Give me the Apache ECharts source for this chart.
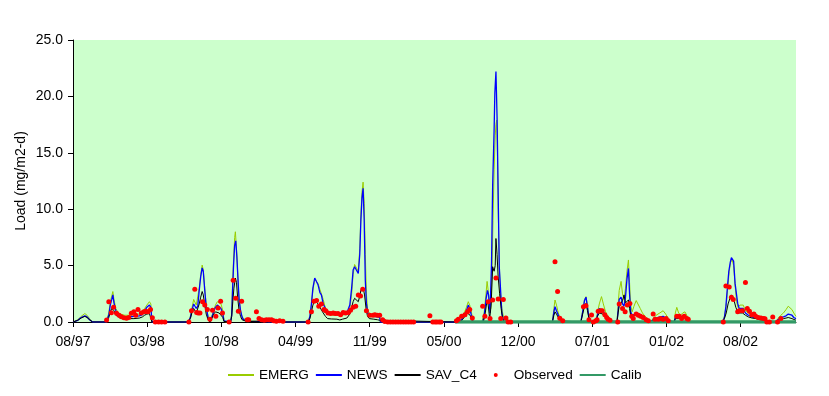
<!DOCTYPE html>
<html>
<head>
<meta charset="utf-8">
<script src="https://cdn.jsdelivr.net/npm/echarts@6/dist/echarts.min.js"></script>
<style>
html,body{margin:0;padding:0;background:#ffffff;}
#chart{width:829px;height:396px;}
</style>
</head>
<body>
<div id="chart"></div>
<script>
// x values are days since the first tick (08/97); ticks every 201 days
const xTickLabels = ['08/97','03/98','10/98','04/99','11/99','05/00','12/00','07/01','01/02','08/02'];
const tickStepDays = 201;
const lastDay = 1959;
const yTickValues = [0, 5, 10, 15, 20, 25];

const seriesNames = ['EMERG', 'NEWS', 'SAV_C4', 'Observed', 'Calib'];

const emergData = [
  [0,0],[5,0],[13,0.2],[22,0.5],[32,0.75],[38,0.6],[45,0.3],[53,0],[90,0],
  [91,0],[97,0.8],[101,1.8],[105,2.3],[108,2.7],[111,2.0],[116,1.2],[121,0.9],[128,0.7],[140,0.6],[154,0.6],[165,0.65],[180,0.7],[188,0.8],[194,1.2],[200,1.5],[207,1.8],[211,1.6],[214,0],
  [312,0],[318,0.5],[322,1.2],[327,2.0],[330,2.1],[334,1.5],[338,1.6],[342,3.0],[346,4.2],[350,5.05],[353,4.6],[357,3.0],[361,1.5],[366,0.5],[371,0.1],[376,0.5],[381,1.0],[386,1.5],[391,1.8],[396,1.95],[401,1.6],[406,1.0],[409,0.2],[411,0],
  [427,0],[430,0.8],[432,3.0],[435,5.5],[438,7.5],[440,8.0],[443,6.5],[446,4.5],[449,2.5],[453,1.2],[457,0.6],[461,0.3],[466,0.15],[480,0.1],[500,0.1],[520,0.05],[530,0],
  [637,0],[642,0.5],[646,1.5],[650,2.8],[655,3.8],[660,3.9],[664,3.4],[669,2.9],[673,2.8],[678,2.0],[684,1.2],[690,0.8],[700,0.6],[715,0.6],[730,0.6],[742,0.7],[750,1.2],[755,2.5],[759,4.2],[763,5.1],[768,5.0],[773,4.5],[777,6.5],[780,9.5],[783,11.5],[786,12.4],[789,10.5],[792,6.0],[795,2.5],[798,1.2],[802,0.8],[808,0.7],[815,0.7],[825,0.65],[831,0.6],[833,0],
  [1035,0],[1048,0],[1053,0.3],[1060,0.8],[1066,1.3],[1071,1.8],[1075,1.5],[1080,0.8],[1084,0],
  [1108,0],[1114,0.8],[1119,2.5],[1122,3.6],[1125,2.8],[1128,1.5],[1132,1.2],[1135,4.0],[1138,9.0],[1141,13.5],[1144,16.5],[1146,17.5],[1148,17.9],[1150,15.0],[1152,10.0],[1155,5.0],[1158,2.5],[1162,1.2],[1166,0.5],[1170,0.2],[1175,0],
  [1299,0],[1303,1.2],[1306,1.95],[1310,1.5],[1315,0.8],[1320,0.3],[1324,0],
  [1376,0],[1381,1.0],[1386,2.0],[1390,2.25],[1394,1.5],[1398,0.5],[1401,0],
  [1417,0],[1421,0.8],[1426,1.6],[1432,2.25],[1437,1.6],[1443,0.9],[1449,0.5],[1455,0.2],[1458,0],
  [1474,0],[1477,1.5],[1480,2.8],[1485,3.6],[1489,2.5],[1493,2.0],[1497,3.0],[1501,4.5],[1505,5.5],[1508,3.5],[1511,1.5],[1515,0.9],[1520,1.4],[1526,1.9],[1531,1.8],[1537,1.2],[1543,0.8],[1550,0.5],[1557,0.3],[1563,0],
  [1566,0],[1572,0.3],[1580,0.6],[1590,0.8],[1599,1.0],[1606,0.7],[1613,0.3],[1618,0],
  [1629,0],[1632,0.8],[1636,1.3],[1641,0.8],[1646,0.6],[1652,0.8],[1658,0.9],[1663,0.6],[1667,0],
  [1760,0],[1765,0.5],[1770,1.5],[1774,3.0],[1778,4.5],[1782,5.3],[1786,5.5],[1790,5.0],[1794,3.2],[1798,1.8],[1802,1.3],[1807,1.5],[1812,1.65],[1816,1.5],[1822,1.0],[1830,0.8],[1840,0.6],[1850,0.45],[1860,0.35],[1870,0.25],[1878,0.15],[1882,0],
  [1905,0],[1910,0.3],[1918,0.6],[1925,0.8],[1932,1.1],[1938,1.4],[1942,1.5],[1948,1.1],[1953,0.8],[1959,0.5]
];

const newsData = [
  [0,0],[5,0],[13,0.15],[22,0.4],[32,0.55],[38,0.45],[45,0.2],[53,0],[90,0],
  [91,0],[97,0.6],[101,1.5],[105,2.0],[108,2.4],[111,1.7],[116,1.0],[121,0.7],[128,0.55],[140,0.45],[154,0.45],[165,0.5],[180,0.55],[188,0.65],[194,1.0],[200,1.3],[207,1.5],[211,1.3],[214,0],
  [312,0],[318,0.4],[322,1.0],[327,1.6],[330,1.65],[334,1.2],[338,1.4],[342,2.8],[346,4.0],[350,4.8],[353,4.5],[357,2.8],[361,1.3],[366,0.4],[371,0.05],[376,0.4],[381,0.9],[386,1.3],[391,1.5],[396,1.5],[401,1.2],[406,0.7],[409,0.1],[411,0],
  [427,0],[430,0.6],[432,2.5],[435,5.0],[438,6.8],[441,7.2],[444,5.8],[447,3.8],[450,2.0],[454,1.0],[458,0.45],[462,0.2],[466,0.1],[480,0.08],[500,0.06],[520,0.04],[530,0],
  [637,0],[642,0.5],[646,1.6],[650,3.0],[655,3.9],[660,4.0],[664,3.3],[669,2.6],[673,2.4],[678,1.6],[684,1.2],[690,0.75],[700,0.68],[715,0.65],[730,0.68],[742,0.8],[750,1.5],[755,3.0],[759,4.6],[763,4.9],[768,4.9],[773,4.3],[777,6.0],[780,9.0],[783,11.0],[786,11.85],[789,9.0],[792,3.7],[795,1.65],[799,0.8],[803,0.5],[815,0.5],[825,0.45],[831,0.4],[833,0],
  [1035,0],[1048,0],[1053,0.2],[1060,0.6],[1066,1.0],[1071,1.5],[1075,1.2],[1080,0.5],[1084,0],
  [1110,0],[1114,0.5],[1119,2.0],[1123,2.8],[1126,2.4],[1130,0.8],[1134,5.2],[1137,12.0],[1141,17.0],[1143,20.3],[1146,22.2],[1149,18.2],[1152,11.4],[1155,4.9],[1159,2.6],[1162,0.8],[1166,0.2],[1170,0],
  [1299,0],[1303,0.9],[1306,1.36],[1310,1.0],[1315,0.6],[1320,0.2],[1324,0],
  [1376,0],[1381,0.9],[1386,1.9],[1390,2.2],[1394,1.3],[1398,0.4],[1401,0],
  [1417,0],[1421,0.6],[1426,1.2],[1430,1.3],[1436,1.0],[1443,0.6],[1449,0.3],[1455,0.1],[1458,0],
  [1474,0],[1477,1.0],[1480,2.0],[1485,2.2],[1489,1.6],[1493,1.4],[1497,2.2],[1501,3.8],[1505,4.75],[1508,2.5],[1511,0.9],[1515,0.6],[1520,0.7],[1526,0.75],[1531,0.7],[1537,0.5],[1543,0.35],[1550,0.25],[1557,0.1],[1563,0],
  [1566,0],[1572,0.2],[1580,0.35],[1590,0.45],[1599,0.5],[1606,0.35],[1613,0.15],[1618,0],
  [1629,0],[1632,0.4],[1636,0.6],[1641,0.45],[1646,0.4],[1652,0.5],[1658,0.6],[1663,0.4],[1667,0],
  [1760,0],[1765,0.4],[1769,1.36],[1773,3.0],[1777,4.5],[1781,5.3],[1784,5.7],[1788,5.85],[1790,5.4],[1794,3.4],[1801,1.65],[1805,1.2],[1810,1.3],[1816,1.2],[1822,0.8],[1830,0.6],[1840,0.45],[1850,0.35],[1860,0.25],[1870,0.2],[1878,0.1],[1882,0],
  [1905,0],[1910,0.2],[1918,0.4],[1925,0.45],[1932,0.55],[1938,0.7],[1942,0.8],[1948,0.6],[1953,0.4],[1959,0.3]
];

const savData = [
  [0,0],[5,0],[13,0.15],[22,0.35],[32,0.5],[38,0.4],[45,0.2],[53,0],[90,0],
  [91,0],[97,0.4],[101,0.9],[105,1.2],[108,1.35],[111,1.0],[116,0.6],[121,0.45],[128,0.35],[140,0.3],[154,0.3],[165,0.3],[180,0.35],[188,0.45],[194,0.6],[200,0.7],[207,0.75],[211,0.6],[214,0],
  [312,0],[318,0.3],[322,0.8],[327,1.2],[330,1.1],[334,0.8],[338,0.9],[342,1.6],[346,2.2],[350,2.7],[353,2.4],[357,1.5],[361,0.7],[366,0.2],[371,0],[376,0.3],[381,0.7],[386,0.9],[391,0.85],[396,0.8],[401,0.7],[406,0.4],[409,0.05],[411,0],
  [427,0],[430,0.5],[433,1.8],[436,3.0],[440,3.9],[443,3.5],[446,2.2],[450,1.0],[454,0.5],[458,0.2],[462,0.1],[470,0.05],[530,0],
  [637,0],[642,0.3],[646,0.9],[650,1.5],[655,1.9],[660,1.95],[664,1.6],[669,1.3],[673,1.2],[678,0.8],[684,0.5],[690,0.3],[700,0.27],[715,0.25],[723,0.18],[730,0.25],[742,0.35],[750,0.7],[755,1.3],[759,1.8],[763,2.1],[768,2.0],[773,1.8],[777,2.3],[780,2.8],[786,3.1],[790,2.4],[794,1.2],[798,0.5],[803,0.3],[815,0.25],[825,0.2],[831,0.15],[833,0],
  [1035,0],[1050,0],[1055,0.2],[1062,0.5],[1068,0.8],[1072,0.9],[1076,0.6],[1080,0.2],[1084,0],
  [1112,0],[1117,0.8],[1122,1.95],[1125,1.5],[1129,0.3],[1133,1.5],[1137,4.9],[1141,4.5],[1144,5.0],[1146,7.4],[1149,6.0],[1152,4.0],[1156,2.5],[1160,1.2],[1164,0.3],[1168,0],
  [1299,0],[1303,0.6],[1306,0.9],[1310,0.7],[1315,0.4],[1320,0.1],[1324,0],
  [1376,0],[1381,0.7],[1386,1.4],[1390,1.65],[1394,1.0],[1398,0.3],[1401,0],
  [1417,0],[1421,0.5],[1426,0.8],[1430,0.9],[1436,0.7],[1443,0.4],[1449,0.2],[1455,0.05],[1458,0],
  [1474,0],[1477,0.8],[1480,1.4],[1485,1.5],[1489,1.9],[1493,2.4],[1497,1.7],[1501,1.6],[1505,1.95],[1508,1.2],[1511,0.6],[1515,0.5],[1520,0.55],[1526,0.6],[1531,0.5],[1537,0.4],[1543,0.3],[1550,0.2],[1557,0.1],[1563,0],
  [1566,0],[1572,0.15],[1580,0.25],[1590,0.3],[1599,0.3],[1606,0.2],[1613,0.1],[1618,0],
  [1629,0],[1632,0.3],[1636,0.4],[1641,0.3],[1646,0.3],[1652,0.35],[1658,0.4],[1663,0.25],[1667,0],
  [1760,0],[1765,0.3],[1770,0.8],[1775,1.6],[1780,2.1],[1784,2.4],[1788,2.2],[1792,1.8],[1796,1.3],[1801,0.9],[1807,0.8],[1814,0.8],[1822,0.6],[1830,0.45],[1840,0.35],[1850,0.3],[1860,0.2],[1870,0.15],[1878,0.05],[1882,0],
  [1905,0],[1910,0.15],[1918,0.25],[1925,0.3],[1932,0.35],[1938,0.4],[1942,0.4],[1948,0.3],[1953,0.2],[1959,0.15]
];

const observedData = [
  [91,0.18],[97,1.8],[104,0.83],[110,1.3],[118,0.77],[125,0.6],[131,0.47],[138,0.38],[145,0.33],[151,0.41],[158,0.77],[165,0.9],[170,0.6],[176,1.1],[185,0.8],[192,0.9],[197,0.95],[203,0.9],[210,1.1],[215,0.38],[223,0],[232,0],[240,0],[249,0],
  [314,0],[321,1.0],[330,2.9],[335,0.85],[339,0.8],[344,0.8],[351,1.8],[357,1.5],[364,1.1],[371,0.25],[378,1.05],[387,0.5],[393,1.25],[400,1.85],[405,0.8],[423,0],[434,3.7],[441,2.1],[448,0.95],[457,1.85],[472,0.2],[476,0.2],[497,0.9],[504,0.3],[511,0.2],[518,0.15],[524,0.2],[531,0.2],[538,0.2],[544,0.12],[551,0.06],[560,0.1],[569,0.06],
  [637,0],[646,0.9],[653,1.85],[660,1.9],[666,1.4],[673,1.6],[680,1.1],[685,1.0],[691,0.8],[698,0.75],[705,0.8],[711,0.75],[718,0.75],[725,0.65],[732,0.85],[739,0.8],[746,0.85],[752,1.05],[759,1.3],[766,1.4],[773,2.4],[779,2.3],[785,2.9],[795,1.0],[804,0.6],[813,0.6],[818,0.65],[824,0.6],[831,0.6],[839,0.2],[845,0.05],
  [853,0],[860,0],[867,0],[874,0],[881,0],[888,0],[895,0],[902,0],[909,0],[916,0],[923,0],
  [967,0.56],[975,0],[981,0],[986,0],[992,0],[997,0],
  [1039,0.1],[1044,0.25],[1053,0.5],[1062,0.65],[1069,0.9],[1075,1.1],[1082,0.35],[1110,1.4],[1116,0.5],[1125,1.8],[1130,0.3],[1137,1.95],[1146,3.9],[1152,2.05],[1159,0.3],[1166,2.0],[1173,0.35],[1179,0],[1186,0],
  [1306,5.35],[1313,2.7],[1319,0.33],[1327,0.1],
  [1383,1.36],[1390,1.45],[1398,0.2],[1405,0.62],[1410,0],[1417,0.1],[1420,0.2],[1423,0.95],[1430,1.0],[1434,1.0],[1441,0.65],[1446,0.4],[1450,0.25],[1455,0.15],
  [1476,0],[1480,1.6],[1489,1.2],[1496,0.9],[1502,1.5],[1509,1.65],[1514,0.5],[1518,0.3],[1526,0.7],[1532,0.6],[1538,0.5],[1545,0.4],[1553,0.2],[1559,0.1],
  [1572,0.7],[1577,0.25],[1586,0.25],[1592,0.3],[1599,0.25],[1607,0.3],[1613,0.1],
  [1636,0.5],[1643,0.5],[1649,0.3],[1656,0.5],[1663,0.3],[1667,0.25],
  [1762,0],[1769,3.2],[1778,3.1],[1784,2.2],[1789,2.0],[1801,0.9],[1805,1.0],[1814,1.0],[1822,3.5],[1827,1.2],[1833,0.95],[1839,0.65],[1845,0.7],[1850,0.5],[1857,0.4],[1864,0.35],[1871,0.3],[1875,0.28],[1880,0],[1887,0],[1896,0.45],[1909,0],[1918,0.3]
];

const calibData = [[1035,0],[1959,0]];

const fontFamily = '"Liberation Sans", Arial, sans-serif';
const tickValues = xTickLabels.map((_, i) => i * tickStepDays);
// legend icon for the dots: a small circle centred in a 26x4 box
const dotIcon = 'path://M0,2L0,2.01M26,2L26,2.01M13,0A2,2,0,1,1,13,4A2,2,0,1,1,13,0Z';

const chart = echarts.init(document.getElementById('chart'), null, {renderer: 'canvas'});
chart.setOption({
  animation: false,
  backgroundColor: '#ffffff',
  textStyle: {fontFamily: fontFamily},
  grid: {left: 73, right: 33, top: 40, bottom: 74, show: true, backgroundColor: '#CCFFCC', borderWidth: 0},
  legend: {
    left: 227, top: 368, padding: 0,
    itemWidth: 26, itemHeight: 4, itemGap: 6,
    textStyle: {fontFamily: fontFamily, fontSize: 13.6, color: '#000000'},
    data: [
      {name: seriesNames[0], itemStyle: {opacity: 0}},
      {name: seriesNames[1], itemStyle: {opacity: 0}},
      {name: seriesNames[2], itemStyle: {opacity: 0}},
      {name: seriesNames[3], icon: dotIcon, itemStyle: {color: '#FF0000', borderWidth: 0}},
      {name: seriesNames[4], itemStyle: {opacity: 0}}
    ]
  },
  xAxis: {
    type: 'value', min: 0, max: lastDay,
    axisLine: {show: true, onZero: false, lineStyle: {color: '#000000', width: 1}},
    axisTick: {show: true, length: 5, customValues: tickValues, lineStyle: {color: '#000000'}},
    axisLabel: {
      customValues: tickValues, margin: 13, fontSize: 14, color: '#000000', fontFamily: fontFamily,
      formatter: function (v) { const i = Math.round(v / tickStepDays); return xTickLabels[i] || ''; }
    },
    splitLine: {show: false}
  },
  yAxis: {
    type: 'value', min: 0, max: 25, interval: 5,
    name: 'Load (mg/m2-d)', nameLocation: 'middle', nameRotate: 90, nameGap: 45, nameMoveOverlap: false,
    nameTextStyle: {fontSize: 14, color: '#000000', fontFamily: fontFamily},
    axisLine: {show: true, lineStyle: {color: '#000000', width: 1}},
    axisTick: {show: true, length: 5, lineStyle: {color: '#000000'}},
    axisLabel: {margin: 10, fontSize: 14, color: '#000000', fontFamily: fontFamily,
      formatter: function (v) { return yTickValues.indexOf(v) >= 0 ? v.toFixed(1) : ''; }},
    splitLine: {show: false}
  },
  series: [
    {name: seriesNames[0], type: 'line', data: emergData, symbol: 'none', z: 2,
     lineStyle: {color: '#99CC00', width: 1}, itemStyle: {color: '#99CC00'}},
    {name: seriesNames[1], type: 'line', data: newsData, symbol: 'none', z: 3,
     lineStyle: {color: '#0000FF', width: 1.3}, itemStyle: {color: '#0000FF'}},
    {name: seriesNames[2], type: 'line', data: savData, symbol: 'none', z: 4,
     lineStyle: {color: '#000000', width: 1}, itemStyle: {color: '#000000'}},
    {name: seriesNames[3], type: 'scatter', data: observedData, symbol: 'circle', symbolSize: 5, z: 6,
     itemStyle: {color: '#FF0000', opacity: 1}},
    {name: seriesNames[4], type: 'line', data: calibData, symbol: 'none', z: 5,
     lineStyle: {color: '#339966', width: 3.5}, itemStyle: {color: '#339966'}}
  ]
});
</script>
</body>
</html>
